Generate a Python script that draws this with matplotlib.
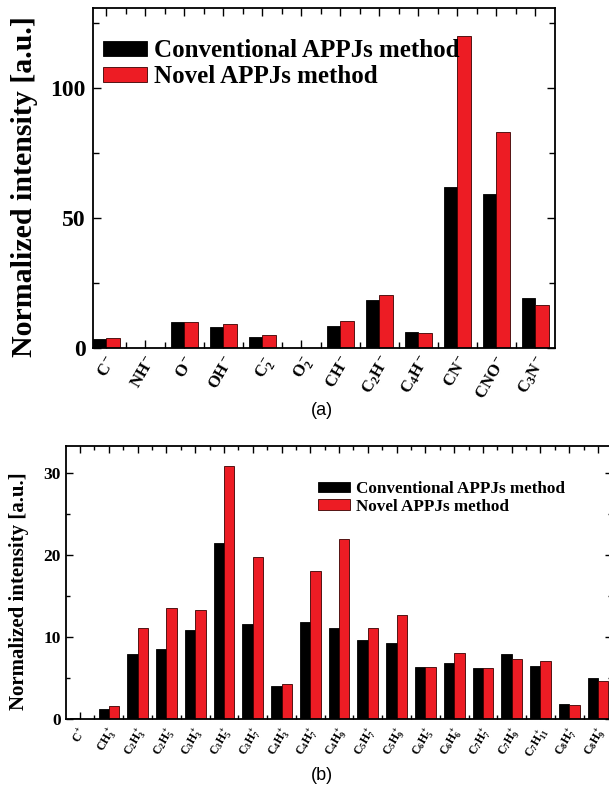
import numpy as np
import matplotlib
matplotlib.use("Agg")
import matplotlib.pyplot as plt
import matplotlib.transforms as mtransforms

plt.rcParams['font.family'] = ['Liberation Serif', 'DejaVu Serif']
plt.rcParams['font.weight'] = 'bold'
plt.rcParams['mathtext.fontset'] = 'custom'
plt.rcParams['mathtext.rm'] = 'Liberation Serif:bold'
plt.rcParams['mathtext.bf'] = 'Liberation Serif:bold'
plt.rcParams['mathtext.it'] = 'Liberation Serif:bold:italic'
plt.rcParams['mathtext.default'] = 'rm'

# ---------------- data (a) ----------------
cats_a = ['C$^-$', 'NH$^-$', 'O$^-$', 'OH$^-$', 'C$_2^-$', 'O$_2^-$', 'CH$^-$',
          'C$_2$H$^-$', 'C$_4$H$^-$', 'CN$^-$', 'CNO$^-$', 'C$_3$N$^-$']
conv_a = [3.3, 0.0, 9.9, 7.9, 4.0, 0.0, 8.1, 18.4, 5.9, 62.0, 59.0, 19.2]
novel_a = [3.8, 0.0, 9.9, 9.0, 4.9, 0.0, 10.1, 20.1, 5.4, 120.2, 83.1, 16.4]
yticks_a = [0, 50, 100]

# ---------------- data (b) ----------------
cats_b = ['C$^+$', 'CH$_3^+$', 'C$_2$H$_3^+$', 'C$_2$H$_5^+$', 'C$_3$H$_3^+$',
          'C$_3$H$_5^+$', 'C$_3$H$_7^+$', 'C$_4$H$_3^+$', 'C$_4$H$_7^+$',
          'C$_4$H$_9^+$', 'C$_5$H$_7^+$', 'C$_5$H$_9^+$', 'C$_6$H$_5^+$',
          'C$_6$H$_6^+$', 'C$_7$H$_7^+$', 'C$_7$H$_9^+$', 'C$_7$H$_{11}^+$',
          'C$_8$H$_7^+$', 'C$_8$H$_9^+$']
conv_b = [0.15, 1.2, 8.0, 8.55, 10.9, 21.4, 11.6, 4.0, 11.9, 11.1, 9.6, 9.3,
          6.4, 6.9, 6.3, 7.9, 6.5, 1.9, 5.0]
novel_b = [0.05, 1.6, 11.1, 13.5, 13.3, 30.8, 19.8, 4.3, 18.1, 21.9, 11.1, 12.7,
           6.4, 8.1, 6.3, 7.3, 7.05, 1.8, 4.7]
yticks_b = [0, 10, 20, 30]

labels = ['Conventional APPJs method', 'Novel APPJs method']
BLACK = '#000000'
RED = '#ED1C24'

W, H = 609, 786
fig = plt.figure(figsize=(W / 100, H / 100), dpi=100)


def px_axes(l, r, t, b):
    return fig.add_axes([l / W, 1 - b / H, (r - l) / W, (b - t) / H])


def style(ax, n, major_len, minor_len):
    for s in ax.spines.values():
        s.set_linewidth(1.3)
    ax.set_xticks(np.arange(n))
    ax.set_xticks(np.arange(n - 1) + 0.5, minor=True)
    ax.tick_params(which='both', direction='in', top=True, right=True,
                   width=1.0)
    ax.tick_params(which='major', length=major_len)
    ax.tick_params(which='minor', length=minor_len)


# ---------------- panel (a) ----------------
ax1 = px_axes(92.7, 555, 8.3, 347.5)
x = np.arange(len(cats_a))
w = 0.34
ax1.bar(x - w / 2, conv_a, w, color=BLACK, edgecolor='black', linewidth=0.6,
        label=labels[0], zorder=2)
ax1.bar(x + w / 2, novel_a, w, color=RED, edgecolor='#3a0000', linewidth=0.6,
        label=labels[1], zorder=2)
ax1.set_xlim(-0.35, 11.5)
ax1.set_ylim(0, 130.8)
style(ax1, len(cats_a), 6, 4)
ax1.set_yticks(yticks_a)
ax1.set_yticks([25, 75, 125], minor=True)
ax1.set_yticklabels([str(v) for v in yticks_a], fontsize=17, fontweight='bold')
ax1.set_xticklabels(cats_a, rotation=60, ha='right', va='top',
                    rotation_mode='anchor', fontsize=12)
ax1.tick_params(axis='x', which='major', pad=4)
ax1.tick_params(axis='y', which='major', pad=5)
ax1.set_ylabel('Normalized intensity [a.u.]', fontsize=21.5, fontweight='bold')
ax1.yaxis.set_label_coords(-0.118, 0.475)
ax1.legend(loc='upper left', bbox_to_anchor=(103 / W, 1 - 39 / H),
           bbox_transform=fig.transFigure, frameon=False, fontsize=18,
           handlelength=1.75, handleheight=0.55, handletextpad=0.3,
           labelspacing=0.12, borderpad=0, borderaxespad=0)
fig.text(322 / W, 1 - 410 / H, '(a)', fontsize=13, fontweight='normal',
         family='Liberation Sans', ha='center', va='center')

# ---------------- panel (b) ----------------
ax2 = px_axes(65.7, 612.4, 445.7, 719.3)
x = np.arange(len(cats_b))
w = 0.36
ax2.bar(x - w / 2, conv_b, w, color=BLACK, edgecolor='black', linewidth=0.6,
        label=labels[0], zorder=2)
ax2.bar(x + w / 2, novel_b, w, color=RED, edgecolor='#3a0000', linewidth=0.6,
        label=labels[1], zorder=2)
ax2.set_xlim(-0.5, 18.5)
ax2.set_ylim(0, 33.3)
style(ax2, len(cats_b), 5, 3)
ax2.set_yticks(yticks_b)
ax2.set_yticks([5, 15, 25], minor=True)
ax2.set_yticklabels([str(v) for v in yticks_b], fontsize=12.5, fontweight='bold')
ax2.set_xticklabels(cats_b, rotation=60, ha='right', va='top',
                    rotation_mode='anchor', fontsize=8.5)
ax2.tick_params(axis='x', which='major', pad=4)
shift = mtransforms.ScaledTranslation(-2 / 100, 0, fig.dpi_scale_trans)
for lab in ax2.get_xticklabels():
    lab.set_transform(lab.get_transform() + shift)
ax2.set_ylabel('Normalized intensity [a.u.]', fontsize=15, fontweight='bold')
ax2.yaxis.set_label_coords(-0.067, 0.47)
ax2.legend(loc='upper left', bbox_to_anchor=(318 / W, 1 - 481 / H),
           bbox_transform=fig.transFigure, frameon=False, fontsize=12.3,
           handlelength=1.9, handleheight=0.6, handletextpad=0.35,
           labelspacing=0.1, borderpad=0, borderaxespad=0)
fig.text(322 / W, 1 - 776 / H, '(b)', fontsize=13, fontweight='normal',
         family='Liberation Sans', ha='center', va='center')

fig.savefig('out.png', dpi=100)
